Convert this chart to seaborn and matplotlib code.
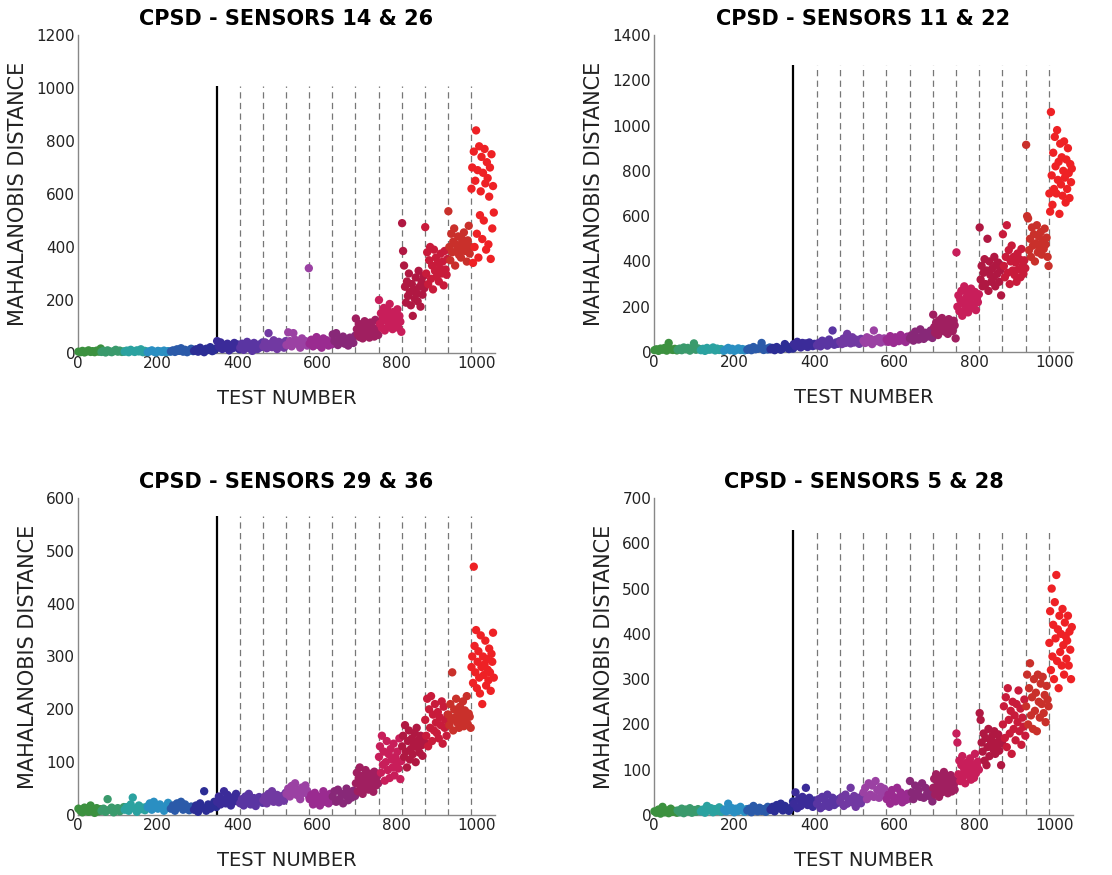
import numpy as np
import pandas as pd
import matplotlib
matplotlib.use("Agg")
import matplotlib.pyplot as plt
import seaborn as sns

sns.set_theme(style="white")
plt.rcParams['font.family'] = ['DejaVu Sans']

# ---------------- data ----------------
group_edges = [0, 58, 116, 174, 232, 290, 348, 406, 464, 522, 580, 638, 696,
               754, 812, 870, 928, 986, 1044]
group_colors = ["#3c913f", "#3a9a6c", "#2ba2a0", "#2a8fc2", "#2b5aa9", "#2c2d95",
                "#3b2b99", "#5a35a2", "#7139a2", "#9b41a3", "#9a2b90", "#882878",
                "#a01f60", "#c81e5a", "#b01842", "#c81b3b", "#c9302b", "#ee2125"]

titles = ["CPSD - SENSORS 14 & 26", "CPSD - SENSORS 11 & 22",
          "CPSD - SENSORS 29 & 36", "CPSD - SENSORS 5 & 28"]
y_max = [1200, 1400, 600, 700]
y_step = [200, 200, 100, 100]
x_ticks = [0, 200, 400, 600, 800, 1000]
vline_top = [1007, 1267, 565, 630]
baseline_end = 348
damage_marks = [406, 464, 522, 580, 638, 696, 754, 812, 870, 928, 986]

md_14_26 = [
    [5, 3, 8, 2, 6, 10, 4, 7, 3, 9, 5, 17],
    [4, 8, 2, 10, 6, 3, 7, 12, 5, 9, 4, 6],
    [5, 9, 3, 12, 7, 4, 10, 6, 14, 3, 8, 5],
    [3, 7, 10, 5, 2, 8, 6, 4, 9, 3, 7, 5],
    [6, 10, 4, 14, 8, 18, 5, 12, 3, 9, 16, 7],
    [8, 14, 5, 20, 10, 3, 16, 12, 22, 7, 11, 18],
    [45, 25, 40, 15, 30, 20, 35, 10, 28, 18, 38, 22, 32, 14],
    [20, 35, 12, 28, 42, 18, 30, 8, 38, 25, 15, 32, 22, 40],
    [25, 40, 18, 75, 35, 22, 48, 30, 15, 42, 28, 36, 20, 45],
    [30, 78, 45, 25, 75, 50, 35, 40, 20, 55, 38, 45, 28, 320],
    [35, 50, 25, 45, 60, 30, 40, 20, 55, 38, 48, 28, 42, 33],
    [70, 45, 75, 30, 55, 40, 62, 35, 50, 28, 58, 45, 38, 65],
    [130, 90, 70, 110, 60, 85, 100, 55, 75, 120, 95, 65, 105, 80, 58, 115, 72, 98,
     88, 62, 125, 78, 92, 68],
    [200, 110, 150, 95, 130, 170, 85, 140, 120, 160, 100, 185, 125, 145, 90, 155,
     115, 135, 105, 165, 95, 140, 118, 80],
    [490, 385, 330, 250, 190, 270, 215, 300, 230, 180, 260, 140, 240, 205, 285, 225,
     195, 310, 250, 175, 270, 220, 290, 245],
    [475, 300, 380, 260, 350, 400, 280, 330, 240, 390, 310, 360, 290, 340, 270, 320,
     375, 300, 345, 255, 385, 315, 295, 355],
    [535, 400, 350, 450, 380, 420, 470, 330, 410, 390, 440, 370, 405, 360, 430, 395,
     455, 385, 415, 345, 425, 480, 375, 400],
    [620, 700, 340, 760, 400, 650, 840, 450, 690, 360, 780, 520, 610, 740, 430, 680,
     500, 770, 640, 390, 720, 660, 410, 590, 700, 355, 750, 470, 630, 530],
]

md_11_22 = [
    [8, 12, 5, 15, 10, 18, 6, 40, 12, 9, 14, 7],
    [10, 15, 8, 20, 12, 18, 6, 14, 38, 10, 16, 12],
    [8, 14, 5, 18, 10, 12, 20, 7, 15, 9, 13, 6],
    [6, 12, 18, 8, 14, 5, 10, 16, 9, 13, 7, 11],
    [10, 16, 8, 22, 12, 14, 18, 40, 9, 15, 11, 20],
    [12, 18, 8, 22, 14, 10, 16, 35, 25, 13, 20, 15],
    [35, 25, 45, 30, 20, 40, 28, 38, 22, 42, 32, 26, 36, 30],
    [30, 40, 25, 50, 35, 45, 28, 55, 38, 95, 32, 42, 36, 48],
    [45, 35, 60, 40, 80, 50, 38, 65, 42, 55, 48, 36, 58, 44],
    [50, 40, 65, 45, 58, 35, 95, 55, 48, 62, 42, 52, 60, 46],
    [55, 45, 70, 50, 40, 65, 58, 48, 75, 52, 62, 44, 68, 56],
    [60, 75, 50, 90, 65, 55, 100, 70, 58, 85, 68, 78, 95, 62],
    [165, 110, 85, 130, 100, 75, 140, 120, 95, 150, 105, 125, 90, 135, 115, 80, 145,
     100, 128, 108, 92, 138, 118, 60],
    [440, 200, 250, 180, 230, 270, 160, 215, 290, 190, 240, 260, 175, 225, 205, 280,
     195, 245, 210, 265, 185, 235, 220, 255],
    [550, 320, 380, 290, 350, 410, 300, 360, 500, 270, 400, 340, 310, 370, 330, 420,
     290, 385, 345, 395, 310, 360, 250, 375],
    [520, 380, 330, 420, 560, 350, 450, 300, 400, 470, 360, 420, 340, 395, 310, 435,
     365, 410, 330, 455, 380, 345, 405, 370],
    [915, 600, 590, 450, 500, 420, 550, 470, 520, 400, 480, 560, 440, 510, 460, 530,
     430, 490, 455, 545, 475, 505, 420, 380],
    [700, 620, 1060, 780, 650, 880, 720, 950, 820, 700, 980, 760, 840, 610, 920, 740,
     860, 690, 800, 930, 770, 660, 850, 720, 900, 790, 680, 830, 750, 810],
]

md_29_36 = [
    [12, 8, 5, 14, 10, 6, 18, 9, 4, 13, 7, 11],
    [8, 12, 6, 30, 10, 14, 5, 9, 13, 7, 11, 15],
    [10, 15, 8, 20, 33, 12, 6, 18, 11, 14, 9, 16],
    [15, 22, 10, 25, 18, 12, 20, 14, 8, 17, 23, 13],
    [12, 18, 8, 22, 15, 25, 10, 20, 14, 9, 16, 13],
    [10, 18, 6, 22, 14, 45, 8, 20, 12, 16, 25, 15],
    [25, 35, 20, 30, 45, 22, 38, 28, 18, 33, 26, 40, 30, 24],
    [22, 30, 18, 35, 25, 40, 20, 28, 32, 17, 26, 34, 29, 23],
    [28, 35, 22, 40, 30, 45, 25, 33, 38, 24, 31, 36, 27, 42],
    [40, 50, 35, 55, 45, 60, 38, 48, 30, 52, 42, 56, 46, 36],
    [30, 38, 20, 42, 28, 35, 18, 32, 45, 25, 36, 22, 40, 27],
    [35, 45, 25, 48, 30, 40, 22, 38, 50, 28, 42, 33, 46, 36],
    [60, 80, 45, 70, 90, 55, 65, 40, 75, 50, 85, 58, 68, 48, 78, 62, 52, 72, 44, 82,
     66, 56, 74, 60],
    [110, 130, 80, 150, 95, 120, 65, 100, 140, 85, 115, 70, 125, 105, 90, 135, 75,
     110, 98, 120, 88, 145, 68, 102],
    [130, 150, 110, 170, 120, 90, 140, 160, 105, 125, 145, 115, 135, 155, 100, 165,
     128, 142, 118, 150, 132, 112, 148, 138],
    [180, 150, 220, 130, 200, 165, 225, 140, 190, 160, 210, 175, 155, 195, 145, 185,
     170, 215, 135, 205, 165, 180, 150, 190],
    [190, 170, 210, 180, 270, 160, 200, 185, 220, 175, 195, 165, 205, 178, 188, 215,
     168, 198, 182, 225, 172, 192, 186, 165],
    [280, 300, 250, 470, 320, 270, 350, 240, 290, 310, 260, 230, 340, 280, 210, 300,
     265, 285, 330, 245, 295, 275, 255, 315, 270, 235, 305, 290, 345, 260],
]

md_5_28 = [
    [8, 5, 12, 3, 18, 6, 10, 4, 14, 7, 9, 5],
    [10, 6, 14, 4, 12, 8, 15, 5, 11, 7, 13, 9],
    [8, 12, 5, 20, 10, 15, 6, 13, 9, 17, 7, 11],
    [12, 8, 25, 10, 15, 6, 14, 9, 18, 11, 7, 13],
    [10, 14, 6, 20, 12, 8, 16, 9, 13, 7, 18, 11],
    [12, 18, 8, 22, 15, 25, 10, 20, 14, 9, 16, 30],
    [25, 50, 15, 35, 20, 40, 30, 60, 22, 38, 28, 18, 32, 26],
    [25, 35, 15, 40, 20, 30, 45, 18, 28, 38, 22, 32, 27, 36],
    [30, 40, 20, 45, 25, 35, 60, 28, 42, 18, 38, 32, 26, 44],
    [50, 60, 35, 70, 45, 65, 40, 75, 55, 38, 62, 48, 58, 44],
    [35, 45, 25, 55, 40, 30, 60, 38, 50, 28, 42, 33, 47, 36],
    [75, 50, 35, 65, 45, 55, 40, 70, 38, 60, 48, 42, 52, 30],
    [60, 80, 45, 90, 55, 70, 40, 85, 65, 50, 75, 95, 68, 58, 82, 48, 72, 62, 88, 52,
     78, 66, 56, 74],
    [180, 160, 90, 120, 75, 110, 130, 85, 100, 70, 115, 95, 105, 88, 125, 78, 98,
     112, 82, 135, 92, 108, 118, 100],
    [225, 210, 160, 140, 180, 120, 170, 110, 150, 190, 130, 165, 155, 175, 145, 185,
     135, 160, 150, 178, 142, 168, 110, 158],
    [200, 240, 170, 260, 150, 280, 210, 180, 230, 135, 250, 190, 220, 165, 245, 205,
     275, 185, 235, 155, 215, 195, 255, 175],
    [240, 310, 200, 280, 335, 220, 260, 190, 300, 230, 270, 185, 310, 250, 215, 290,
     245, 305, 225, 265, 205, 285, 255, 240],
    [380, 450, 320, 500, 350, 420, 300, 470, 390, 530, 340, 410, 280, 440, 360, 400,
     330, 455, 375, 310, 425, 395, 345, 385, 440, 330, 405, 365, 300, 415],
]

panels = [md_14_26, md_11_22, md_29_36, md_5_28]


def to_frame(groups):
    rows = []
    for g, vals in enumerate(groups):
        lo, hi = group_edges[g], group_edges[g + 1]
        n = len(vals)
        xs = np.linspace(lo + 1, hi - 1, n)
        for x, v in zip(xs, vals):
            rows.append((x, v, g))
    return pd.DataFrame(rows, columns=["test", "md", "group"])


# ---------------- figure ----------------
W, H = 1112, 875
fig = plt.figure(figsize=(W / 100, H / 100), dpi=100)
boxes = [(78, 353, 417, 318), (654, 352, 419, 317),
         (78, 815, 417, 317), (654, 815, 419, 317)]

for i, (groups, box) in enumerate(zip(panels, boxes)):
    l, b, w, h = box
    ax = fig.add_axes([l / W, 1 - b / H, w / W, h / H])
    df = to_frame(groups)
    sns.scatterplot(data=df, x="test", y="md", hue="group",
                    palette=group_colors, legend=False, s=36,
                    linewidth=0, alpha=1.0, ax=ax, clip_on=False, zorder=3)
    ax.vlines([baseline_end], 0, vline_top[i], colors="black", linewidth=1.6, zorder=2)
    ax.vlines(damage_marks, 0, vline_top[i], colors="#777777", linewidth=0.9,
              linestyles=(0, (5, 3.5)), zorder=1)
    ax.set_xlim(0, 1046)
    ax.set_ylim(0, y_max[i])
    ax.set_xticks(x_ticks)
    ax.set_yticks(np.arange(0, y_max[i] + 1, y_step[i]))
    ax.tick_params(axis="both", direction="in", length=3, width=0.8,
                   color="#888888", labelsize=11, labelcolor="#222222", pad=2)
    for side in ["top", "right"]:
        ax.spines[side].set_visible(False)
    for side in ["left", "bottom"]:
        ax.spines[side].set_color("#888888")
        ax.spines[side].set_linewidth(1.0)
    ax.set_title(titles[i], fontsize=15, fontweight="bold", color="black", pad=7)
    ax.set_xlabel("TEST NUMBER", fontsize=14, color="#222222", labelpad=13)
    ax.set_ylabel("MAHALANOBIS DISTANCE", fontsize=15, color="#222222", labelpad=6)

fig.savefig("out.png", dpi=100, facecolor="white")
